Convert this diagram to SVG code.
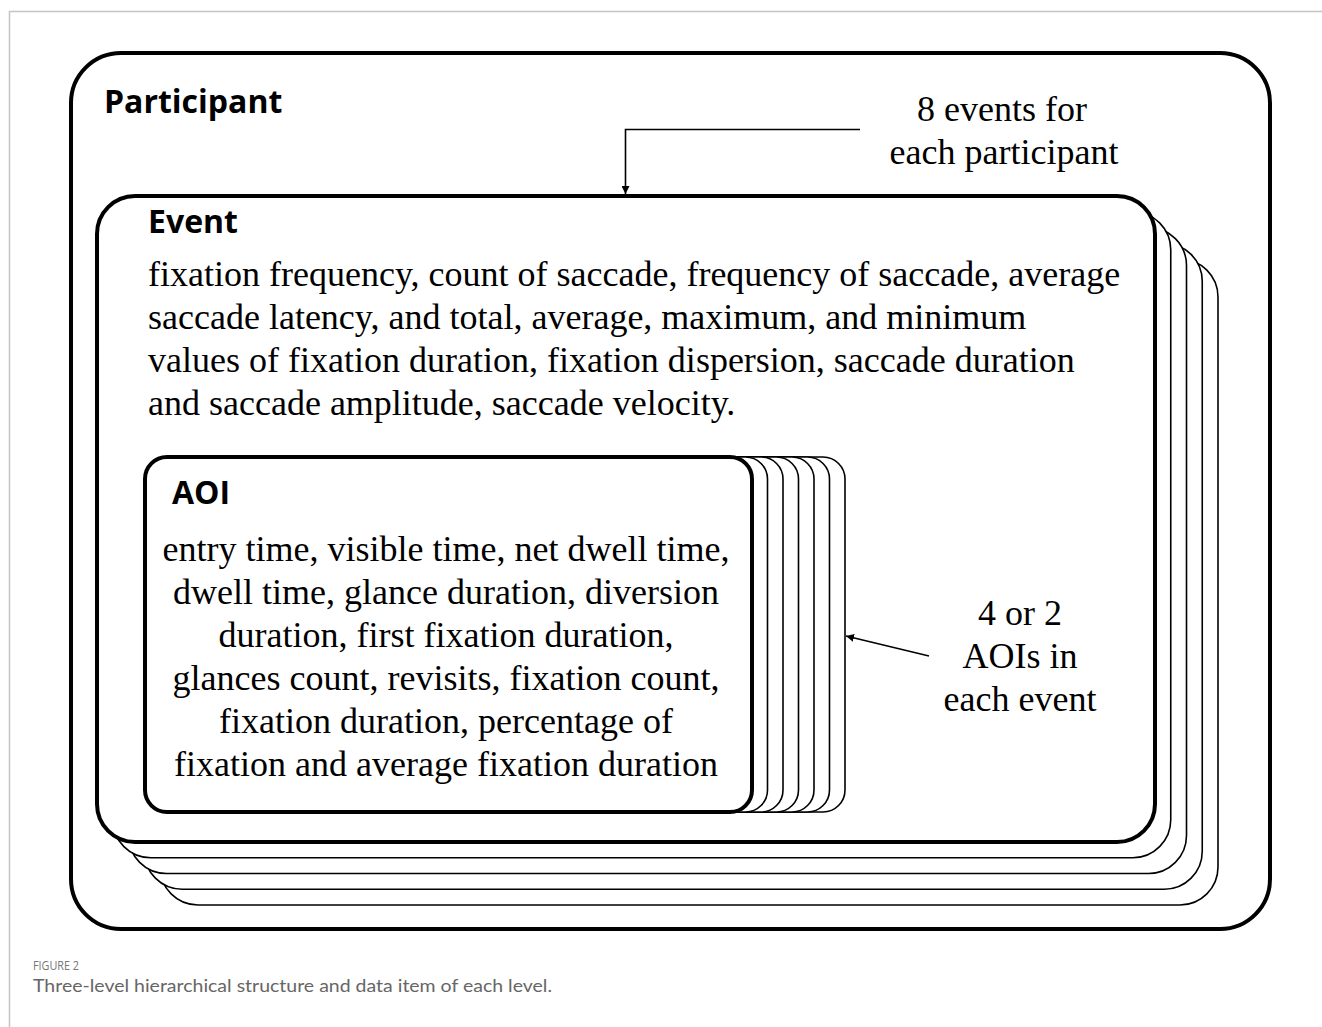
<svg xmlns="http://www.w3.org/2000/svg" width="1322" height="1027" viewBox="0 0 1322 1027">
<style>
.frame{fill:none;stroke:#c4c4c4;stroke-width:1.5}
.box{fill:#fff;stroke:#000;stroke-width:4}
.back{fill:#fff;stroke:#000;stroke-width:1.6}
.head{font-family:"Open Sans","Liberation Sans",sans-serif;font-weight:bold;font-size:32px;fill:#000}
.body{font-family:"Liberation Serif","Times New Roman",serif;font-size:36px;fill:#000}
.mid{text-anchor:middle}
.conn{fill:none;stroke:#000;stroke-width:1.6}
.cap1{font-family:"Open Sans","Liberation Sans",sans-serif;font-size:13px;fill:#777}
.cap2{font-family:"Lato","Open Sans",sans-serif;font-size:18px;fill:#666}
</style>
<defs>
<marker id="ah" viewBox="0 0 10 10" refX="10" refY="5" markerWidth="8" markerHeight="8" markerUnits="userSpaceOnUse" orient="auto">
<path d="M0,0 L10,5 L0,10 z" fill="#000"/>
</marker>
</defs>
<rect width="1322" height="1027" fill="#fff"/>
<path class="frame" d="M9.5,1027 V11.5 H1322"/>

<g id="participant">
<rect class="box" x="71" y="53" width="1199" height="876" rx="50"/>
<text class="head" x="104" y="113">Participant</text>
</g>

<g id="event">
<rect class="back" x="160" y="259" width="1058" height="646" rx="38"/>
<rect class="back" x="144.25" y="243.25" width="1058" height="646" rx="38"/>
<rect class="back" x="128.5" y="227.5" width="1058" height="646" rx="38"/>
<rect class="back" x="112.75" y="211.75" width="1058" height="646" rx="38"/>
<rect class="box" x="97" y="196" width="1058" height="646" rx="38"/>
<text class="head" x="148" y="233">Event</text>
<text class="body" x="148" y="286">fixation frequency, count of saccade, frequency of saccade, average</text>
<text class="body" x="148" y="329">saccade latency, and total, average, maximum, and minimum</text>
<text class="body" x="148" y="372">values of fixation duration, fixation dispersion, saccade duration</text>
<text class="body" x="148" y="415">and saccade amplitude, saccade velocity.</text>
</g>

<g id="aoi">
<rect class="back" x="238" y="457" width="607" height="355" rx="22"/>
<rect class="back" x="222.5" y="457" width="607" height="355" rx="22"/>
<rect class="back" x="207" y="457" width="607" height="355" rx="22"/>
<rect class="back" x="191.5" y="457" width="607" height="355" rx="22"/>
<rect class="back" x="176" y="457" width="607" height="355" rx="22"/>
<rect class="back" x="160.5" y="457" width="607" height="355" rx="22"/>
<rect class="box" x="145" y="457" width="607" height="355" rx="22" stroke-width="3.6"/>
<text class="head" x="172" y="504">AOI</text>
<text class="body mid" x="446" y="561">entry time, visible time, net dwell time,</text>
<text class="body mid" x="446" y="604">dwell time, glance duration, diversion</text>
<text class="body mid" x="446" y="647">duration, first fixation duration,</text>
<text class="body mid" x="446" y="690">glances count, revisits, fixation count,</text>
<text class="body mid" x="446" y="733">fixation duration, percentage of</text>
<text class="body mid" x="446" y="776">fixation and average fixation duration</text>
</g>

<g id="label-events">
<text class="body mid" x="1002" y="121">8 events for</text>
<text class="body mid" x="1004" y="164">each participant</text>
</g>

<g id="label-aois">
<text class="body mid" x="1020" y="625">4 or 2</text>
<text class="body mid" x="1020" y="668">AOIs in</text>
<text class="body mid" x="1020" y="711">each event</text>
</g>

<g id="connectors">
<path class="conn" d="M860,129.5 H625.5 V194" marker-end="url(#ah)"/>
<path class="conn" d="M929,656 L846,636" marker-end="url(#ah)"/>
</g>

<g id="caption">
<text class="cap1" x="33" y="970" textLength="46" lengthAdjust="spacingAndGlyphs">FIGURE 2</text>
<text class="cap2" x="33" y="992" textLength="519" lengthAdjust="spacingAndGlyphs">Three-level hierarchical structure and data item of each level.</text>
</g>
</svg>
